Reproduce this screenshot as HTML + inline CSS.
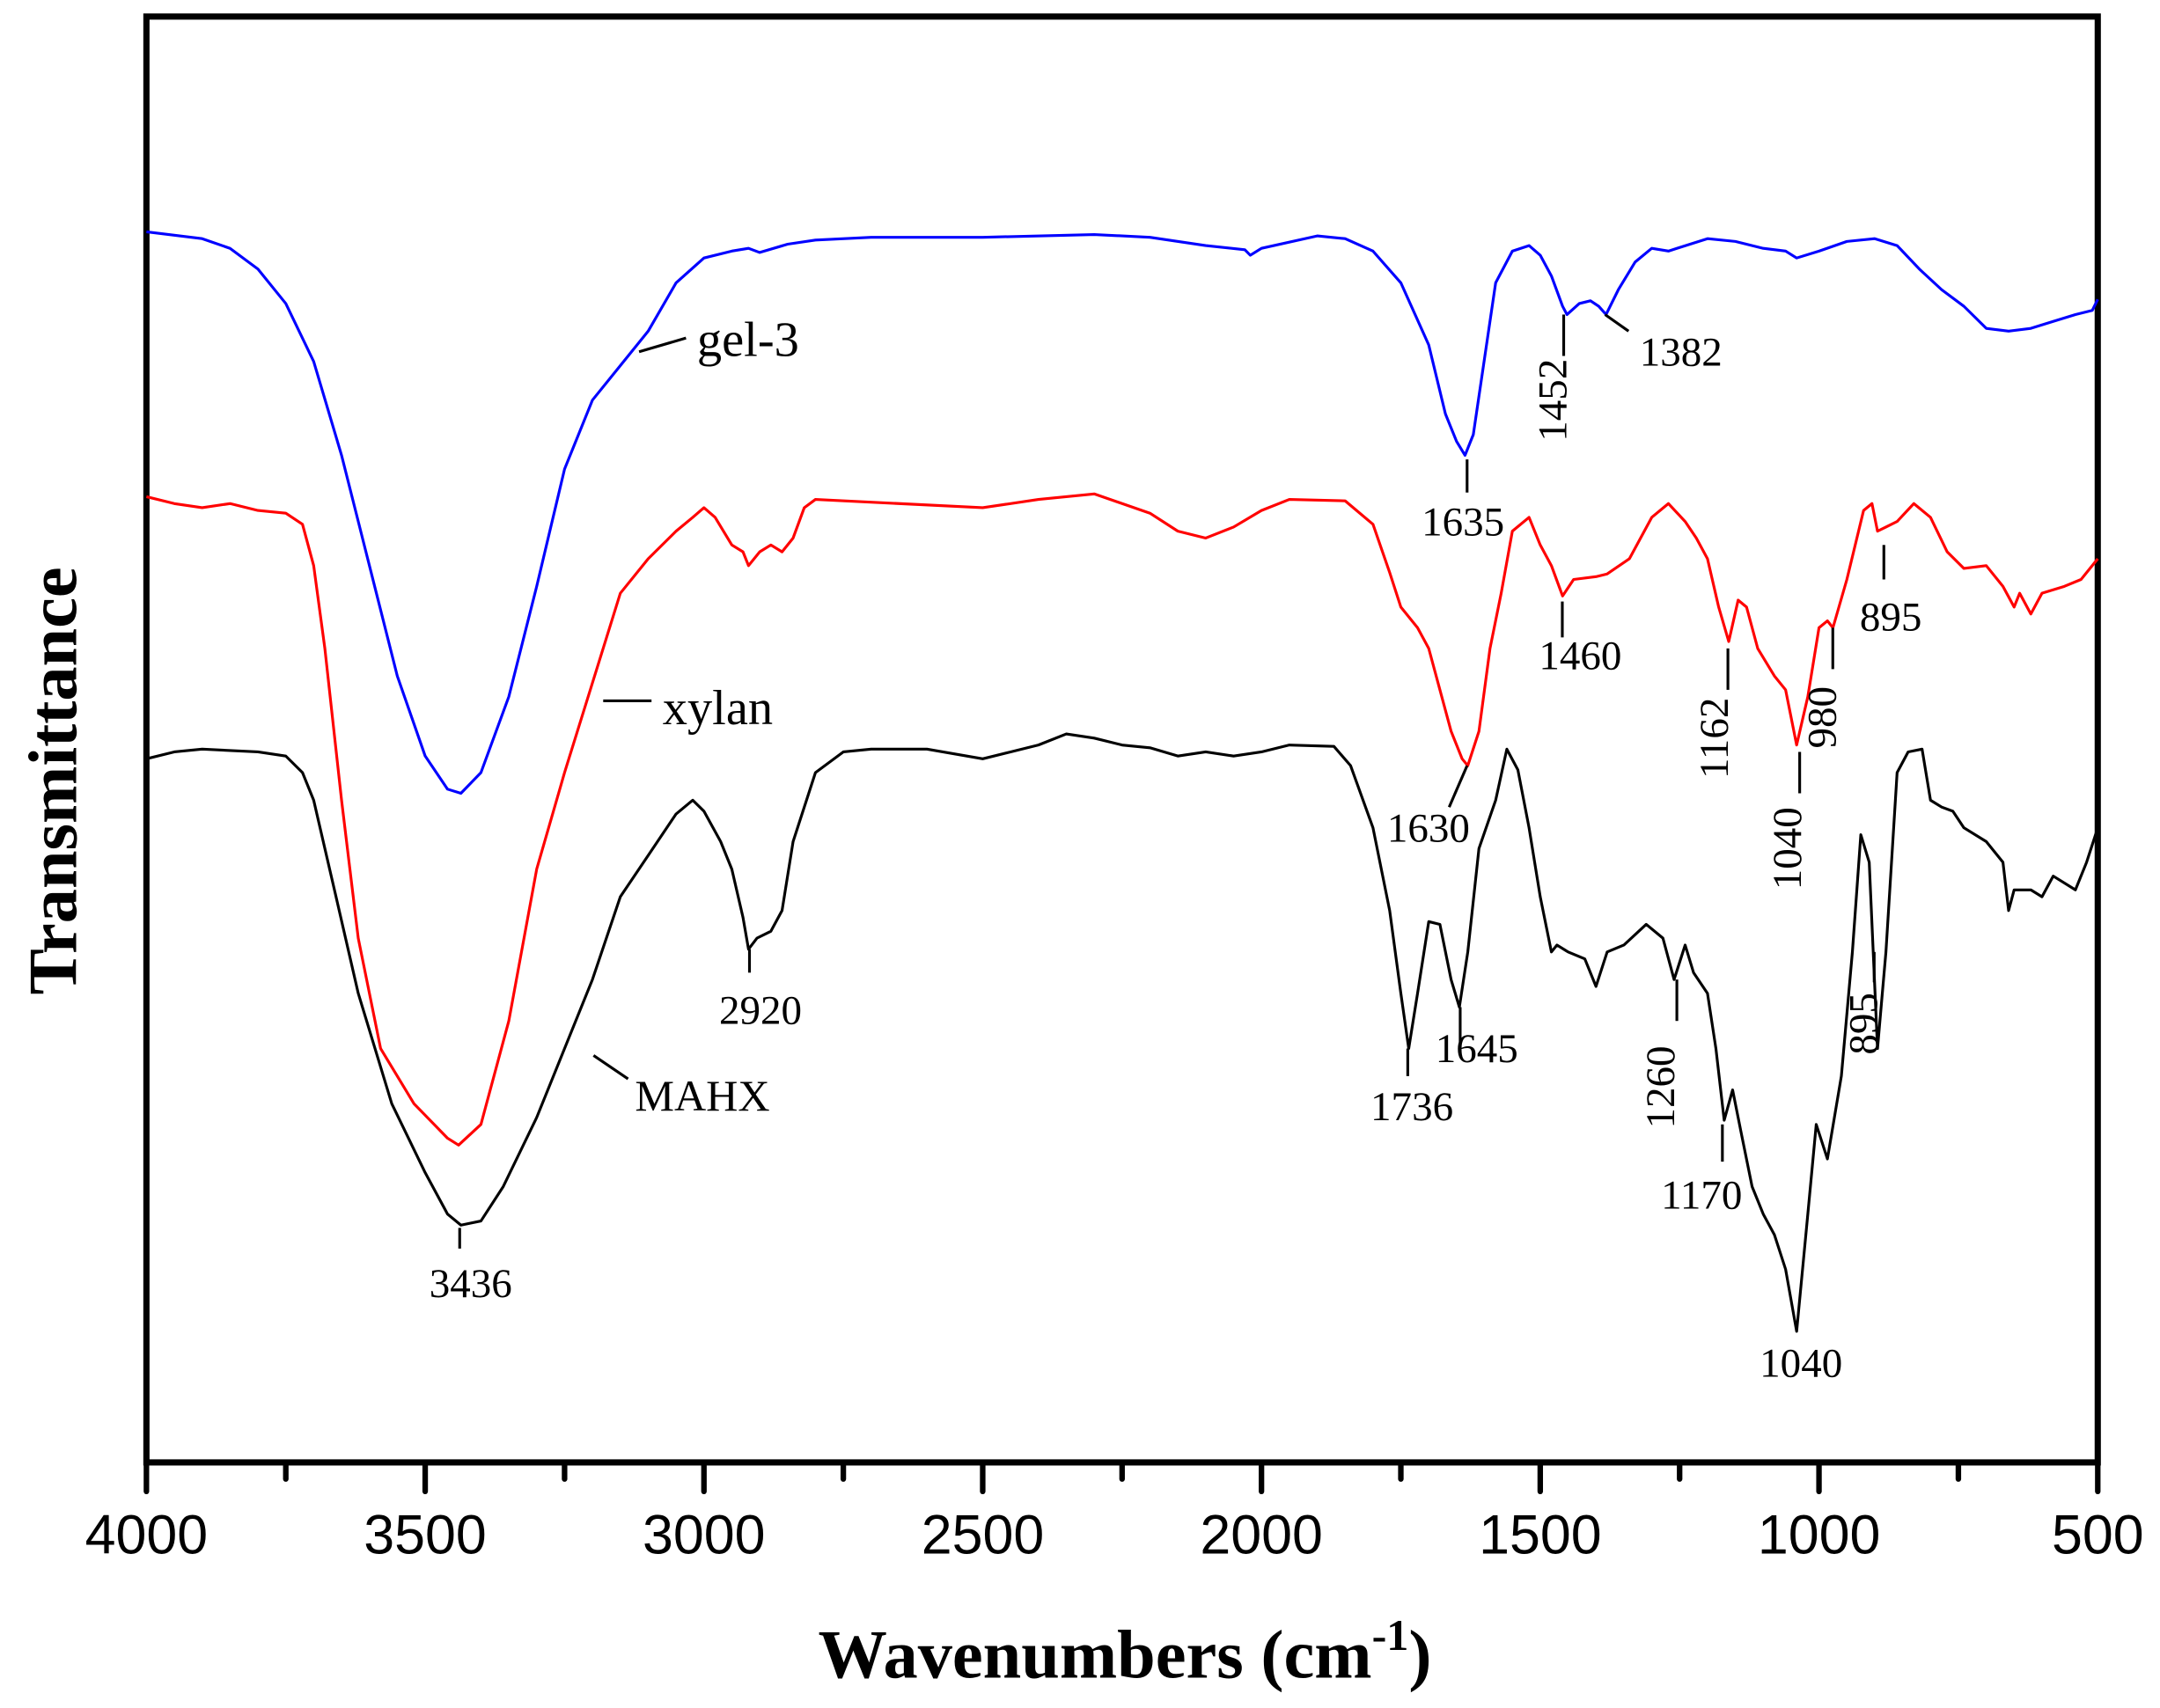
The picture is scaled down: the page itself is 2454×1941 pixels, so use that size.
<!DOCTYPE html>
<html><head><meta charset="utf-8"><style>html,body{margin:0;padding:0;background:#fff}svg{display:block}</style></head>
<body>
<svg id="chart" width="2454" height="1941" viewBox="0 0 1565 1238" xmlns="http://www.w3.org/2000/svg">
<g id="axes"></g>
<g id="series"></g>
<g id="ann" font-family="Liberation Serif, serif" font-size="30" fill="#000"></g>
<text x="815" y="1216" text-anchor="middle" font-family="Liberation Serif, serif" font-weight="bold" font-size="50">Wavenumbers (cm<tspan font-size="32" dy="-20">-1</tspan><tspan dy="20">)</tspan></text>
<text transform="translate(55,566) rotate(-90)" text-anchor="middle" font-family="Liberation Serif, serif" font-weight="bold" font-size="50">Transmittance</text>
</svg>
<script>
const xTicks=[4000,3500,3000,2500,2000,1500,1000,500];
const xMinor=[3750,3250,2750,2250,1750,1250,750];
const gelWn=[4000,3900,3850,3800,3750,3700,3650,3600,3550,3500,3460,3436,3400,3350,3300,3250,3200,3150,3100,3050,3000,2950,2920,2900,2850,2800,2700,2500,2300,2200,2100,2030,2020,2000,1900,1850,1800,1750,1700,1670,1650,1635,1620,1600,1580,1550,1520,1500,1480,1460,1452,1430,1410,1395,1382,1360,1330,1300,1270,1255,1200,1150,1100,1060,1040,1000,950,900,860,820,780,740,700,660,620,580,540,510,500];
const gelT=[89.2,88.7,88.0,86.5,84,79.8,73,65,57,51.2,48.8,48.5,50,55.5,63.5,72,77,79.5,82,85.5,87.3,87.8,88,87.7,88.3,88.6,88.8,88.8,89,88.8,88.2,87.9,87.5,88,88.9,88.7,87.8,85.5,81,76,74,73,74.5,80,85.5,87.8,88.2,87.5,86,83.8,83.2,84,84.2,83.8,83.2,85,87,88,87.8,88,88.7,88.5,88,87.8,87.3,87.8,88.5,88.7,88.2,86.5,85,83.8,82.2,82,82.2,82.7,83.2,83.5,84.3];
const xylWn=[4000,3950,3900,3850,3800,3750,3720,3700,3680,3650,3620,3580,3520,3460,3440,3400,3350,3300,3250,3200,3150,3100,3050,3020,3000,2980,2950,2930,2920,2900,2880,2860,2840,2820,2800,2500,2400,2350,2300,2200,2150,2100,2050,2000,1950,1850,1800,1770,1750,1720,1700,1680,1660,1640,1630,1610,1590,1570,1550,1520,1500,1480,1460,1440,1400,1380,1340,1300,1270,1240,1220,1200,1180,1162,1145,1130,1110,1080,1060,1040,1020,1000,985,975,950,920,905,895,880,860,830,800,770,740,700,670,650,640,620,600,560,530,500];
const xylT=[70,69.5,69.2,69.5,69,68.8,68,65,59,48,38,30,26,23.5,23,24.5,32,43,50,56.5,63,65.5,67.5,68.5,69.2,68.5,66.5,66,65,66,66.5,66,67,69.2,69.8,69.2,69.8,70,70.2,68.8,67.5,67,67.8,69,69.8,69.7,68,64.5,62,60.5,59,56,53,51,50.5,53,59,63,67.5,68.5,66.5,65,62.8,64,64.2,64.4,65.5,68.5,69.5,68.2,67,65.5,62,59.5,62.5,62,59,57,56,52,55.5,60.5,61,60.5,64,69,69.5,67.5,67.8,68.2,69.5,68.5,66,64.8,65,63.5,62,63,61.5,63,63.5,64,65.5];
const mahWn=[4000,3950,3900,3800,3750,3720,3700,3660,3620,3560,3500,3460,3436,3400,3360,3300,3250,3200,3150,3100,3050,3020,3000,2970,2950,2930,2920,2905,2880,2860,2840,2800,2750,2700,2600,2500,2450,2400,2350,2300,2250,2200,2150,2100,2050,2000,1950,1870,1840,1800,1770,1750,1736,1720,1700,1680,1660,1645,1630,1610,1580,1560,1540,1520,1500,1480,1470,1450,1420,1400,1380,1350,1310,1280,1260,1240,1225,1200,1185,1170,1155,1140,1120,1100,1080,1060,1040,1020,1005,985,960,940,925,910,895,880,860,840,815,800,780,760,740,700,670,660,650,620,600,580,560,540,520,500];
const mahT=[51,51.5,51.7,51.5,51.2,50,48,41,34,26,21,18,17.2,17.5,20,25,30,35,41,44,47,48,47.2,45,43,39.5,37.2,38,38.5,40,45,50,51.5,51.7,51.7,51,51.5,52,52.8,52.5,52,51.8,51.2,51.5,51.2,51.5,52,51.9,50.5,46,40,34,30,34,39.2,39,35,33,37,44.5,48,51.7,50.2,46,41,37,37.5,37,36.5,34.5,37,37.5,39,38,35,37.5,35.5,34,30,24.8,27,24,20,18,16.5,14,9.5,18,24.5,22,28,37,45.5,43.5,30,37,50,51.5,51.7,48,47.5,47.2,46,45,43.5,40,41.5,41.5,41,42.5,42,41.5,43.5,46];
const NS="http://www.w3.org/2000/svg";
const L=106,R=1520,T=12,B=1060;
function xs(w){return L+(4000-w)/3500*(R-L);}
function ys(v){return B-v*10;}
function mk(tag,attrs,parent){const e=document.createElementNS(NS,tag);for(const k in attrs)e.setAttribute(k,attrs[k]);parent.appendChild(e);return e;}
const axes=document.getElementById('axes');
const frame=mk('rect',{x:L,y:T,width:R-L,height:B-T,fill:'none',stroke:'#000','stroke-width':4.5},axes);


xTicks.forEach(w=>{
  const t=mk('line',{x1:xs(w),x2:xs(w),y1:B,y2:B+21,stroke:'#000','stroke-width':4,'stroke-linecap':'round'},axes);
  
  
  const lb=mk('text',{x:xs(w),y:1126,'text-anchor':'middle','font-family':'Liberation Sans, sans-serif','font-size':40},axes);
  lb.textContent=w;
  
  
});
xMinor.forEach(w=>{
  const t=mk('line',{x1:xs(w),x2:xs(w),y1:B,y2:B+12,stroke:'#000','stroke-width':4,'stroke-linecap':'round'},axes);
  
  
});
const series=document.getElementById('series');
function draw(wn,tv,color,name){
  const d=wn.map((w,i)=>(i?'L':'M')+xs(w).toFixed(1)+','+ys(tv[i]).toFixed(1)).join('');
  const p=mk('path',{d:d,fill:'none',stroke:color,'stroke-width':2,'stroke-linejoin':'round'},series);
  
  
}
draw(gelWn,gelT,'#0000ff','gel-3-spectrum');
draw(xylWn,xylT,'#ff0000','xylan-spectrum');
draw(mahWn,mahT,'#000000','mahx-spectrum');
const ann=document.getElementById('ann');
function ln(x1,y1,x2,y2){const e=mk('line',{x1,y1,x2,y2,stroke:'#000','stroke-width':2},ann);
  
  }
function tx(s,x,y,opt){opt=opt||{};const a={x:x,y:y,'text-anchor':opt.anchor||'middle'};
  if(opt.size)a['font-size']=opt.size;
  if(opt.rot)a.transform='rotate(-90 '+x+' '+y+')';
  const e=mk('text',a,ann);e.textContent=s;
  
  }
ln(463,255,497,245);tx('gel-3',505,258,{anchor:'start',size:36});
ln(437,508,472,508);tx('xylan',480,525,{anchor:'start',size:36});
ln(430,765,455,782);tx('MAHX',460,805,{anchor:'start',size:32});
ln(1063,333,1063,357);tx('1635',1060,388);
ln(1133,228,1133,258);tx('1452',1135,290,{rot:1});
ln(1163,228,1180,240);tx('1382',1188,265,{anchor:'start'});
ln(1132,436,1132,462);tx('1460',1145,485);
ln(1063,555,1050,585);tx('1630',1035,610);
ln(1252,470,1252,500);tx('1162',1252,535,{rot:1});
ln(1304,545,1304,575);tx('1040',1305,615,{rot:1});
ln(1328,455,1328,485);tx('980',1330,520,{rot:1});
ln(1365,395,1365,420);tx('895',1370,457);
ln(543,688,543,705);tx('2920',551,742);
ln(333,890,333,905);tx('3436',341,940);
ln(1020,760,1020,780);tx('1736',1023,812);
ln(1058,730,1058,758);tx('1645',1070,770);
ln(1215,710,1215,740);tx('1260',1213,788,{rot:1});
ln(1248,815,1248,842);tx('1170',1233,876);
tx('1040',1305,998);
ln(1358,690,1358,712);tx('895',1360,742,{rot:1});
</script>
</body></html>
